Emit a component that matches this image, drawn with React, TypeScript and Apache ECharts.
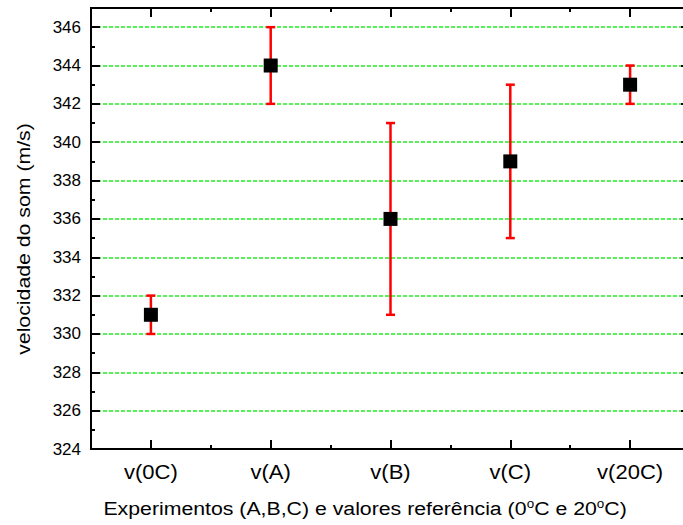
import React, { useEffect, useRef } from "react";
import * as echarts from "echarts";

const categories = ["v(0C)", "v(A)", "v(B)", "v(C)", "v(20C)"];
const values = [331, 344, 336, 339, 343];
const errLow = [330, 342, 331, 335, 342];
const errHigh = [332, 346, 341, 343, 344];
const yMin = 324;
const yMax = 347;

const FONT = "'Liberation Sans', Arial, sans-serif";

export default function App() {
  const ref = useRef<HTMLDivElement>(null);
  useEffect(() => {
    if (!ref.current) return;
    const chart = echarts.init(ref.current, undefined, { renderer: "svg" });
    const axisLine = { show: true, lineStyle: { color: "#000", width: 2 } };
    const baseY = {
      type: "value",
      min: yMin,
      max: yMax,
      axisLine,
    };
    const baseX = {
      type: "category",
      data: categories,
      boundaryGap: true,
      axisLine,
    };
    const option = {
      animation: false,
      grid: { left: 91, top: 8, width: 599, height: 441 },
      xAxis: [
        {
          ...baseX,
          position: "bottom",
          axisTick: { show: true, inside: true, length: 9, alignWithLabel: true, lineStyle: { width: 2, color: "#000" } },
          axisLabel: { show: false },
        },
        {
          ...baseX,
          position: "bottom",
          axisTick: { show: true, inside: true, length: 4, lineStyle: { width: 2, color: "#000" } },
          axisLabel: { show: false },
        },
        {
          ...baseX,
          position: "top",
          axisTick: { show: true, inside: true, length: 9, alignWithLabel: true, lineStyle: { width: 2, color: "#000" } },
          axisLabel: { show: false },
        },
        {
          ...baseX,
          position: "top",
          axisTick: { show: true, inside: true, length: 4, lineStyle: { width: 2, color: "#000" } },
          axisLabel: { show: false },
        },
      ],
      yAxis: [
        {
          ...baseY,
          position: "left",
          interval: 2,
          axisTick: { show: true, inside: true, length: 9, lineStyle: { width: 2, color: "#000" } },
          axisLabel: {
            show: true,
            fontSize: 17,
            fontFamily: FONT,
            color: "#000",
            margin: 10,
            formatter: (v: number) => (v === yMax ? "" : String(v)),
          },
          splitLine: {
            show: true,
            lineStyle: { color: "#22ee22", width: 1.5, type: [4, 2] },
          },
        },
        {
          ...baseY,
          position: "left",
          interval: 1,
          axisTick: { show: true, inside: true, length: 4, lineStyle: { width: 2, color: "#000" } },
          axisLabel: { show: false },
          splitLine: { show: false },
        },
        {
          ...baseY,
          position: "right",
          interval: 2,
          axisTick: { show: true, inside: true, length: 9, lineStyle: { width: 2, color: "#000" } },
          axisLabel: { show: false },
          splitLine: { show: false },
        },
        {
          ...baseY,
          position: "right",
          interval: 1,
          axisTick: { show: true, inside: true, length: 4, lineStyle: { width: 2, color: "#000" } },
          axisLabel: { show: false },
          splitLine: { show: false },
        },
      ],
      series: [
        {
          type: "custom",
          xAxisIndex: 0,
          yAxisIndex: 0,
          z: 2,
          clip: false,
          data: categories.map((_, i) => [i, errLow[i], errHigh[i]]),
          renderItem: (params: any, api: any) => {
            const x = api.value(0);
            const lo = api.coord([x, api.value(1)]);
            const hi = api.coord([x, api.value(2)]);
            const base = api.coord([x, yMin]);
            const cap = 4.5;
            const style = { stroke: "#ff0000", lineWidth: 2.5 };
            return {
              type: "group",
              children: [
                { type: "line", shape: { x1: lo[0], y1: lo[1], x2: hi[0], y2: hi[1] }, style },
                { type: "line", shape: { x1: lo[0] - cap, y1: lo[1], x2: lo[0] + cap, y2: lo[1] }, style },
                { type: "line", shape: { x1: hi[0] - cap, y1: hi[1], x2: hi[0] + cap, y2: hi[1] }, style },
                {
                  type: "text",
                  x: base[0],
                  y: base[1] + 23,
                  scaleX: 1.1,
                  style: {
                    text: categories[params.dataIndex],
                    fontSize: 20,
                    fontFamily: FONT,
                    fill: "#000",
                    textAlign: "center",
                    textVerticalAlign: "middle",
                  },
                },
              ],
            };
          },
        },
        {
          type: "scatter",
          xAxisIndex: 0,
          yAxisIndex: 0,
          z: 3,
          symbol: "rect",
          symbolSize: 14,
          itemStyle: { color: "#000", opacity: 1 },
          data: values.map((v, i) => [i, v]),
        },
      ],
      graphic: [
        {
          type: "text",
          x: 23,
          y: 239,
          rotation: Math.PI / 2,
          scaleX: 1.12,
          style: {
            text: "velocidade do som (m/s)",
            fontSize: 19,
            fontFamily: FONT,
            fill: "#000",
            textAlign: "center",
            textVerticalAlign: "middle",
          },
        },
        {
          type: "text",
          x: 365,
          y: 508,
          scaleX: 1.12,
          style: {
            text: "Experimentos (A,B,C) e valores referência (0{sup|o}C e 20{sup|o}C)",
            fontSize: 19,
            fontFamily: FONT,
            fill: "#000",
            textAlign: "center",
            textVerticalAlign: "middle",
            rich: {
              sup: { fontSize: 12, fontFamily: FONT, fill: "#000", verticalAlign: "top", padding: [0, 0, 9, 0] },
            },
          },
        },
      ],
    };
    chart.setOption(option as any);
    return () => chart.dispose();
  }, []);
  return (
    <div style={{ position: "fixed", left: 0, top: 0, width: 683, height: 525, overflow: "hidden", background: "#fff" }}>
      <div ref={ref} style={{ width: 700, height: 525 }} />
    </div>
  );
}
